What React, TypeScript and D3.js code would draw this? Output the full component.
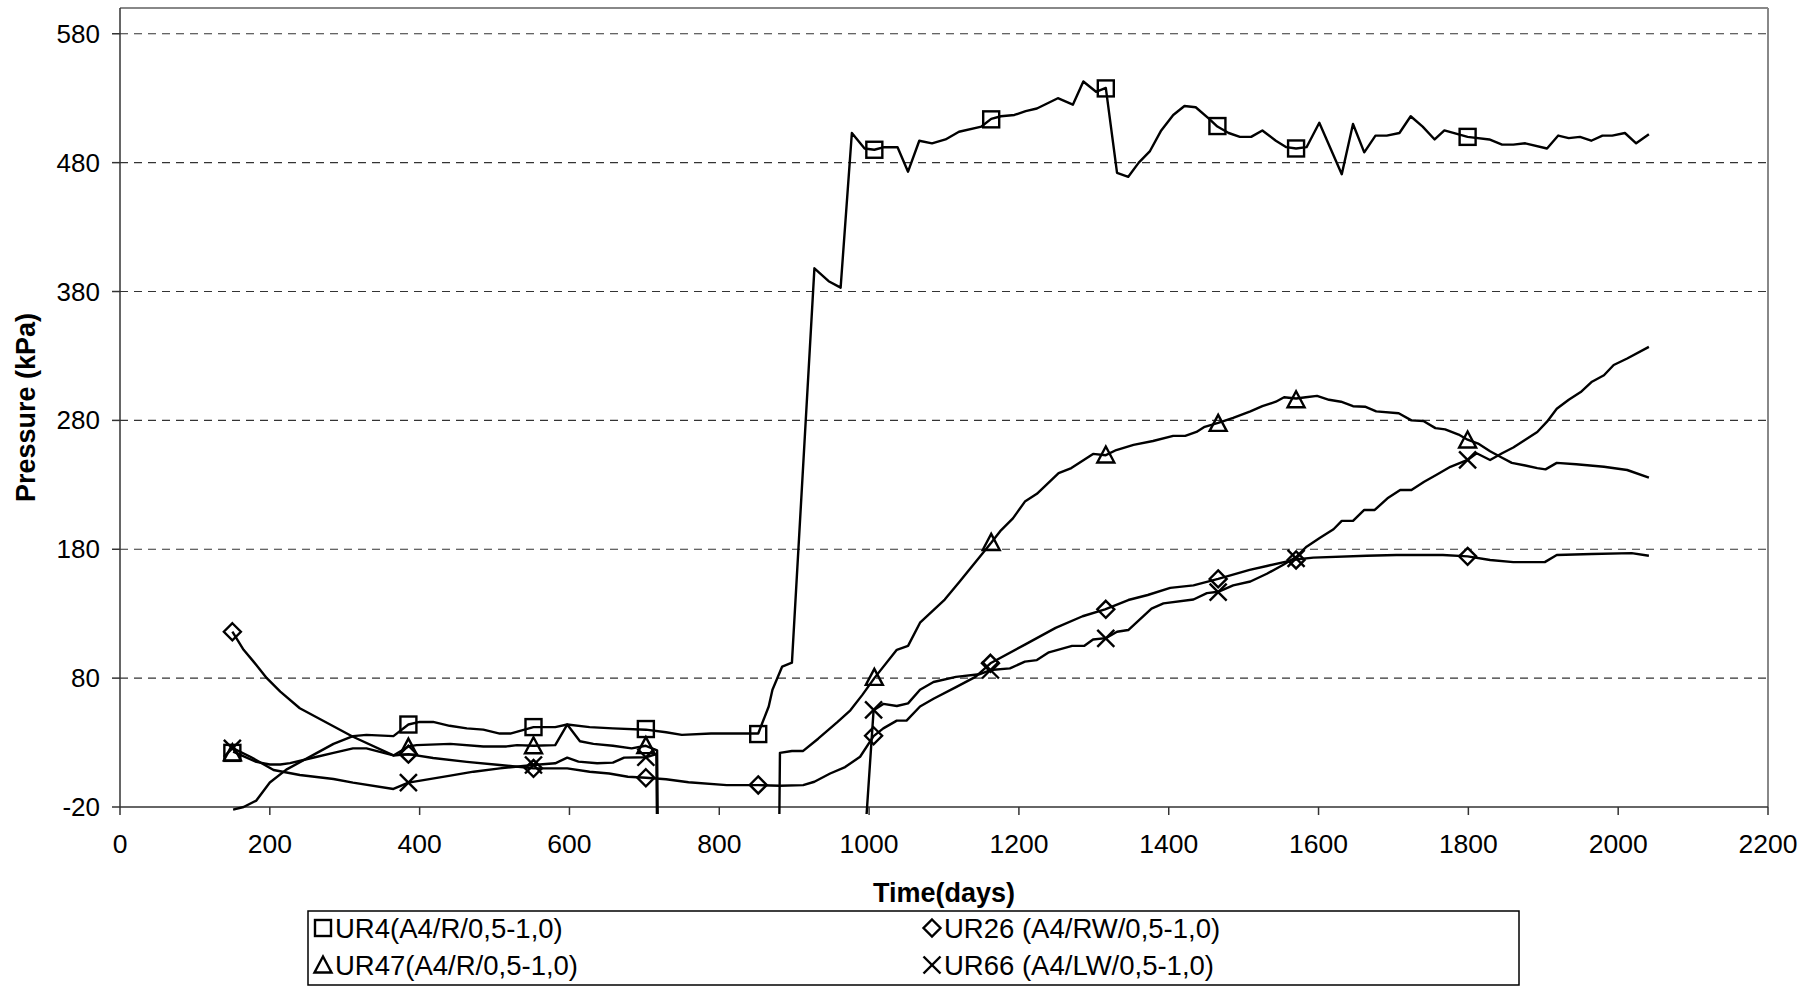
import React from 'react';
import * as d3 from 'd3';

type P = [number, number];

const xTicks = [0, 200, 400, 600, 800, 1000, 1200, 1400, 1600, 1800, 2000, 2200];
const yTicks = [-20, 80, 180, 280, 380, 480, 580];

const ur4Line: P[] = [[151,-22],[165,-20],[182,-15],[191,-8],[200,-1],[222,9],[263,22],[285,29],[311,35],[329,36],[365,35],[385,44],[400,46],[418,46],[440,43],[463,41],[485,40],[507,37],[521,37],[552,42],[581,42],[597,44],[627,42],[658,41],[702,40],[729,38],[750,36],[789,37],[820,37],[852,37],[866,58],[871,71],[884,89],[897,92],[927,398],[946,388],[962,383],[977,503],[994,491],[1007,490],[1020,492],[1038,492],[1052,473],[1067,497],[1084,495],[1102,498],[1120,504],[1150,508],[1163,514],[1176,516],[1194,517],[1209,520],[1224,522],[1252,530],[1272,525],[1286,543],[1303,535],[1316,538],[1331,472],[1346,469],[1360,480],[1375,489],[1390,505],[1406,517],[1421,524],[1436,523],[1454,514],[1465,508],[1480,503],[1495,500],[1510,500],[1525,505],[1543,497],[1557,492],[1570,491],[1584,492],[1601,511],[1631,471],[1646,510],[1661,488],[1676,501],[1691,501],[1708,503],[1723,516],[1739,508],[1755,498],[1768,505],[1799,500],[1828,498],[1845,494],[1860,494],[1876,495],[1905,491],[1920,501],[1934,499],[1949,500],[1964,497],[1979,501],[1992,501],[2009,503],[2024,495],[2041,502]];
const ur4Markers: P[] = [[150,22],[385,44],[552,42],[702,40.5],[852,36.6],[1007,490],[1163,513.6],[1316,537.6],[1465,508.4],[1570,491],[1799,500]];

const ur26Line: P[] = [[150,116],[165,102],[178,93],[196,80],[214,69.5],[240,56.6],[311,34.5],[365,20],[385,21],[418,18],[463,15],[507,12.6],[552,10],[597,10],[627,7.4],[653,6],[678,3.5],[702,2.7],[729,1.5],[759,-0.8],[810,-3],[852,-3],[881,-3.5],[912,-3],[927,-0.4],[948,6],[968,11],[988,19],[1006,35],[1019,41],[1037,47],[1050,47],[1068,58],[1086,64],[1116,73],[1142,81],[1162,91.5],[1208,106],[1249,119],[1285,128],[1315,133.4],[1346,140.6],[1372,144.5],[1402,150],[1433,152],[1466,157],[1508,164],[1531,167],[1569,172],[1593,173.5],[1664,175],[1704,175.5],[1766,175.5],[1799,174.5],[1829,171.7],[1860,170],[1902,170],[1918,175.5],[1965,176.3],[2018,177],[2041,175]];
const ur26Markers: P[] = [[150,116],[385,21],[552,10],[702,2.7],[852,-2.9],[1006,35.3],[1162,91.5],[1316,133.4],[1466,157],[1570,171.7],[1799,174.5]];

const ur47Line: P[] = [[151,23],[182,15],[200,13],[214,13],[227,14],[263,19],[285,22],[311,25.5],[329,25.5],[365,20],[385,27],[396,28],[441,29],[485,27],[516,27],[530,28],[552,27.5],[581,28],[597,44],[614,31],[632,29],[658,27.5],[683,25.5],[702,27.5],[717,24],[718,-40],[880,-40],[881,22],[897,23.5],[912,23.5],[932,33],[946,40],[958,46],[975,55],[991,67],[1007,80],[1037,102],[1052,105],[1068,123],[1101,141],[1121,155],[1163,185],[1175,194],[1192,204],[1208,217],[1224,223],[1253,239],[1270,243],[1299,254],[1316,253],[1330,257],[1353,261],[1379,264],[1406,268],[1422,268],[1437,271],[1448,275],[1466,278],[1486,282],[1509,287],[1525,291],[1543,294.5],[1554,298],[1570,297],[1583,298],[1598,299],[1614,296],[1630,294.5],[1646,291],[1662,290.6],[1677,287],[1707,285.5],[1724,280],[1740,279.5],[1756,274],[1769,273],[1787,269],[1799,265],[1813,262],[1829,256],[1845,251],[1858,247],[1876,245],[1892,243],[1903,242],[1918,247],[1944,246],[1981,244],[2012,241.5],[2041,235.5]];
const ur47Markers: P[] = [[150,22],[385,26.5],[552,27.5],[702,27.6],[1007,80.6],[1163,185.3],[1316,253.1],[1466,277.7],[1570,296],[1799,264.8]];

const ur66Line: P[] = [[151,25.5],[174,19],[205,8.7],[240,4.8],[285,1.7],[311,-1.1],[365,-6],[385,-1.1],[407,1],[441,4.3],[472,7.4],[507,10],[552,12.6],[581,13.9],[597,18.3],[612,15.2],[637,13.9],[658,14.4],[673,18.3],[702,18.6],[716,21],[717,-40],[995,-40],[1006,55],[1019,60],[1037,58.4],[1052,60.4],[1068,71],[1086,77],[1116,81],[1147,83],[1162,86.3],[1188,87.6],[1208,92.8],[1224,94],[1240,100],[1271,105],[1287,105],[1299,110],[1316,111],[1331,116],[1346,117.3],[1377,134],[1393,138],[1433,141],[1451,146],[1466,147],[1486,152],[1509,155],[1531,161],[1553,168],[1570,174],[1584,182],[1602,189],[1620,195.5],[1631,202],[1646,202],[1661,210.5],[1675,210.5],[1692,219.5],[1709,226],[1724,226],[1741,232.4],[1757,237.6],[1776,244],[1799,249.3],[1811,254.5],[1829,249.3],[1845,254.5],[1860,259],[1876,265],[1892,271],[1905,279],[1918,289],[1934,296],[1950,302],[1965,310],[1981,315],[1994,323],[2012,328],[2041,337]];
const ur66Markers: P[] = [[150,25.5],[385,-1.1],[552,12.6],[702,18.6],[1006,55.3],[1162,86.3],[1316,110.9],[1466,146.7],[1570,173],[1799,249.3]];

const seriesNames = ['UR4(A4/R/0,5-1,0)', 'UR26 (A4/RW/0,5-1,0)', 'UR47(A4/R/0,5-1,0)', 'UR66 (A4/LW/0,5-1,0)'];

const FONT = '"Liberation Sans", Arial, Helvetica, sans-serif';

type Sym = 'square' | 'diamond' | 'triangle' | 'x';

function Marker({ cx, cy, sym }: { cx: number; cy: number; sym: Sym }) {
  const s = 8.5;
  const common = { fill: 'none', stroke: '#000', strokeWidth: 2.4 };
  if (sym === 'square') return <rect x={cx - 8} y={cy - 8} width={16} height={16} {...common} />;
  if (sym === 'diamond') return <polygon points={`${cx},${cy - s} ${cx + s},${cy} ${cx},${cy + s} ${cx - s},${cy}`} {...common} />;
  if (sym === 'triangle') return <polygon points={`${cx},${cy - 8.5} ${cx + 8.5},${cy + 7.5} ${cx - 8.5},${cy + 7.5}`} {...common} />;
  return (
    <g {...common}>
      <line x1={cx - s} y1={cy - s} x2={cx + s} y2={cy + s} />
      <line x1={cx - s} y1={cy + s} x2={cx + s} y2={cy - s} />
    </g>
  );
}

export default function App() {
  const W = 1815, H = 986;
  const left = 120, right = 1768, top = 8, bottom = 807;
  const x = d3.scaleLinear().domain([0, 2200]).range([left, right]);
  const y = d3.scaleLinear().domain([-20, 600]).range([bottom, top]);
  const line = d3.line<P>().x(d => x(d[0])).y(d => y(d[1]));

  const series: { line: P[]; markers: P[]; sym: Sym }[] = [
    { line: ur4Line, markers: ur4Markers, sym: 'square' },
    { line: ur26Line, markers: ur26Markers, sym: 'diamond' },
    { line: ur47Line, markers: ur47Markers, sym: 'triangle' },
    { line: ur66Line, markers: ur66Markers, sym: 'x' },
  ];

  const legend: { name: string; sym: Sym; lx: number; ly: number }[] = [
    { name: seriesNames[0], sym: 'square', lx: 323, ly: 928 },
    { name: seriesNames[1], sym: 'diamond', lx: 932, ly: 928 },
    { name: seriesNames[2], sym: 'triangle', lx: 323, ly: 965 },
    { name: seriesNames[3], sym: 'x', lx: 932, ly: 965 },
  ];

  return (
    <div style={{ position: 'absolute', left: 0, top: 0 }}>
      <svg width={W} height={H} style={{ display: 'block', background: '#fff' }} fontFamily={FONT}>
        <defs>
          <clipPath id="plotclip">
            <rect x={left} y={top} width={right - left} height={bottom - top + 7} />
          </clipPath>
        </defs>
        {yTicks.slice(1).map(t => (
          <line key={t} x1={left} x2={right} y1={y(t)} y2={y(t)} stroke="#333" strokeWidth={1.2} strokeDasharray="8,6" />
        ))}
        <line x1={left} x2={right} y1={top} y2={top} stroke="#888" strokeWidth={2} />
        <line x1={right} x2={right} y1={top} y2={bottom} stroke="#888" strokeWidth={2} />
        <line x1={left} x2={left} y1={top} y2={bottom} stroke="#333" strokeWidth={1.5} />
        <line x1={left} x2={right} y1={bottom} y2={bottom} stroke="#333" strokeWidth={1.5} />
        {yTicks.map(t => (
          <g key={t}>
            <line x1={left - 8} x2={left} y1={y(t)} y2={y(t)} stroke="#333" strokeWidth={1.5} />
            <text x={left - 20} y={y(t)} dy="0.35em" textAnchor="end" fontSize={26} fill="#000">{t}</text>
          </g>
        ))}
        {xTicks.map(t => (
          <g key={t}>
            <line x1={x(t)} x2={x(t)} y1={bottom} y2={bottom + 8} stroke="#333" strokeWidth={1.5} />
            <text x={x(t)} y={853} textAnchor="middle" fontSize={26.5} fill="#000">{t}</text>
          </g>
        ))}
        <text x={(left + right) / 2} y={902} textAnchor="middle" fontSize={27} fontWeight="bold">Time(days)</text>
        <text transform={`translate(35,${(top + bottom) / 2}) rotate(-90)`} textAnchor="middle" fontSize={27} fontWeight="bold">Pressure (kPa)</text>
        <g clipPath="url(#plotclip)">
          {series.map((s, i) => (
            <path key={i} d={line(s.line) || ''} fill="none" stroke="#000" strokeWidth={2.4} strokeLinejoin="round" />
          ))}
        </g>
        {series.map((s, i) => (
          <g key={i}>
            {s.markers.map((m, j) => (
              <Marker key={j} cx={x(m[0])} cy={y(m[1])} sym={s.sym} />
            ))}
          </g>
        ))}
        <rect x={308} y={911} width={1211} height={74} fill="#fff" stroke="#000" strokeWidth={1.5} />
        {legend.map((l, i) => (
          <g key={i}>
            <Marker cx={l.lx} cy={l.ly} sym={l.sym} />
            <text x={l.lx + 12} y={l.ly} dy="0.36em" fontSize={27.5}>{l.name}</text>
          </g>
        ))}
      </svg>
    </div>
  );
}
